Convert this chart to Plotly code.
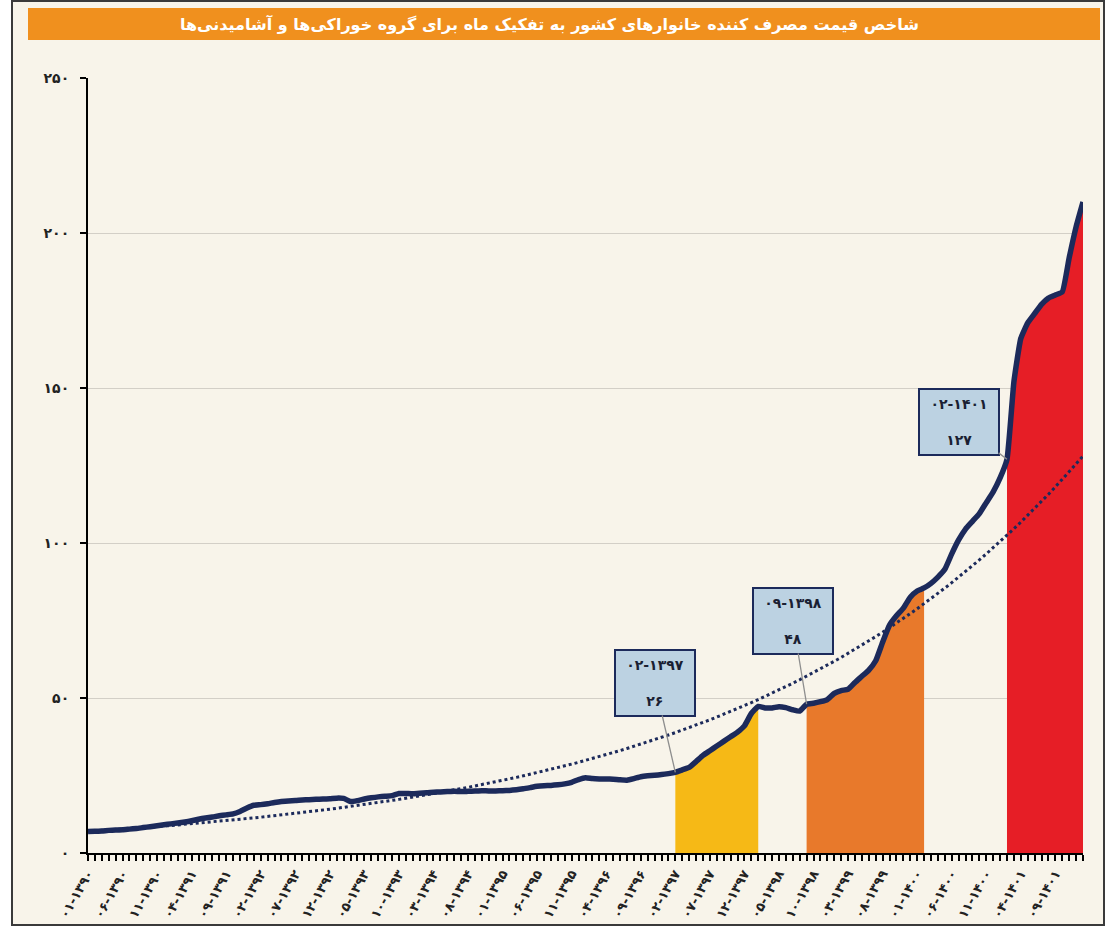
import numpy as np
import plotly.graph_objects as go

FA = str.maketrans("0123456789", "۰۱۲۳۴۵۶۷۸۹")


def fa(s):
    return str(s).translate(FA)


# ---------------- data ----------------
start_year = 1390
months = [f"{(i % 12) + 1:02d}-{start_year + i // 12}" for i in range(145)]

food_cpi = [
    6.9, 7.0, 7.1, 7.3, 7.4, 7.5, 7.7, 7.9, 8.2, 8.5,
    8.8, 9.1, 9.4, 9.7, 10.0, 10.4, 10.9, 11.3, 11.6, 12.0,
    12.3, 12.6, 13.4, 14.5, 15.4, 15.6, 15.9, 16.3, 16.6, 16.8,
    16.9, 17.1, 17.2, 17.3, 17.4, 17.5, 17.7, 17.6, 16.6, 16.9,
    17.4, 17.8, 18.1, 18.3, 18.5, 19.2, 19.2, 19.1, 19.3, 19.4,
    19.6, 19.7, 19.8, 19.9, 19.8, 19.9, 20.0, 20.1, 20.0, 20.0,
    20.1, 20.2, 20.4, 20.7, 21.1, 21.5, 21.7, 21.8, 22.0, 22.3,
    22.8, 23.7, 24.3, 24.0, 23.9, 23.9, 23.8, 23.6, 23.5, 24.0,
    24.6, 24.9, 25.1, 25.3, 25.6, 26.0, 26.8, 27.6, 29.5, 31.5,
    33.0, 34.5, 36.0, 37.5, 39.0, 41.0, 45.0, 47.3, 46.8, 46.8,
    47.2, 46.9, 46.2, 45.8, 48.0, 48.3, 48.8, 49.5, 51.5, 52.4,
    52.8, 55.0, 57.0, 59.0, 62.0, 68.0, 73.5, 76.5, 79.0, 82.5,
    84.5, 85.5, 87.0, 89.0, 91.5, 96.5, 101.0, 104.5, 107.0, 109.5,
    113.0, 116.5, 121.0, 127.0, 152.0, 166.0, 171.0, 174.0, 177.0, 179.0,
    180.0, 181.0, 192.0, 202.0, 210.0,
]

y_ticks = [0, 50, 100, 150, 200, 250]

# highlighted periods: (start month, end month, colour)
highlight_periods = [
    ("02-1397", "02-1398", "#F6B916"),
    ("09-1398", "02-1400", "#E8792B"),
    ("02-1401", "01-1402", "#E61E26"),
]

# callouts: month, value, box position (month, value)
callouts = [
    ("02-1397", 26, "11-1396", 55),
    ("09-1398", 48, "07-1398", 75),
    ("02-1401", 127, "07-1400", 139),
]

title_text = "شاخص قیمت مصرف کننده خانوارهای کشور به تفکیک ماه برای گروه خوراکی‌ها و آشامیدنی‌ها"

# ---------------- figure ----------------
idx = list(range(len(months)))
navy = "#1C2A5B"
cream = "#F8F4EA"

# exponential trendline (least squares on log values, as Excel does)
coef = np.polyfit(idx, np.log(food_cpi), 1)
trend = np.exp(np.polyval(coef, idx))

fig = go.Figure()

for start, end, col in highlight_periods:
    a, b = months.index(start), months.index(end)
    fig.add_trace(go.Scatter(
        x=idx[a:b + 1], y=food_cpi[a:b + 1], mode="lines",
        line=dict(width=0, color=col), fill="tozeroy", fillcolor=col,
        hoverinfo="skip", showlegend=False,
    ))

fig.add_trace(go.Scatter(
    x=idx, y=trend, mode="lines",
    line=dict(color=navy, width=3, dash="dot"),
    showlegend=False, hoverinfo="skip",
))

fig.add_trace(go.Scatter(
    x=idx, y=food_cpi, mode="lines",
    line=dict(color=navy, width=5.5, shape="spline", smoothing=0.4),
    showlegend=False,
))

for m, v, box_m, box_v in callouts:
    fig.add_annotation(
        x=months.index(m), y=v, xref="x", yref="y",
        ax=months.index(box_m), ay=box_v, axref="x", ayref="y",
        text=f"<b>{fa(m[:2])}-{fa(m[3:])}</b><br><br><b>{fa(v)}</b>",
        showarrow=True, arrowhead=0, arrowwidth=1.3, arrowcolor="#8E8E8E",
        bgcolor="#BCD2E2", bordercolor=navy, borderwidth=2, borderpad=4,
        width=70, height=56,
        font=dict(family="DejaVu Sans", size=14, color="#1A1F33"),
        align="center",
    )


def px_x(p):
    return (p - 88) / 995.0


def px_y(p):
    return (853 - p) / 775.0


# outer frame and title bar
fig.add_shape(type="rect", xref="paper", yref="paper",
              x0=px_x(12), x1=px_x(1104), y0=px_y(925), y1=px_y(1),
              fillcolor=cream, line=dict(color="#3A3A3A", width=2), layer="below")
fig.add_shape(type="rect", xref="paper", yref="paper",
              x0=px_x(28), x1=px_x(1100), y0=px_y(40), y1=px_y(8),
              fillcolor="#F0901E", line=dict(width=0), layer="below")
fig.add_annotation(xref="paper", yref="paper", x=px_x(549), y=px_y(24),
                   text=f"<b>{title_text}</b>", showarrow=False,
                   font=dict(family="DejaVu Sans", size=16, color="white"),
                   xanchor="center", yanchor="middle")

fig.update_xaxes(
    range=[0, len(months) - 1], automargin=False,
    tickmode="array", tickvals=idx,
    ticktext=[f"<b>{fa(m)}</b>" if i % 5 == 0 else "" for i, m in enumerate(months)],
    tickangle=-60, ticks="outside", ticklen=6, tickwidth=1.5, tickcolor="black",
    showline=True, linecolor="black", linewidth=2, showgrid=False, zeroline=False,
    tickfont=dict(family="DejaVu Sans", size=13, color="#222"),
)
fig.update_yaxes(
    range=[0, 250], automargin=False, tickmode="array", tickvals=y_ticks,
    ticktext=[f"<b>{fa(t)}</b>" for t in y_ticks],
    ticks="outside", ticklen=6, tickwidth=1.5, tickcolor="black",
    showline=True, linecolor="black", linewidth=2,
    showgrid=True, gridcolor="#D3CFC7", gridwidth=1.2, zeroline=False,
    tickfont=dict(family="DejaVu Sans", size=14, color="#222"),
    ticklabelstandoff=8,
)

fig.update_layout(
    width=1110, height=927,
    margin=dict(l=88, r=27, t=78, b=74),
    paper_bgcolor="white", plot_bgcolor="rgba(0,0,0,0)",
    showlegend=False,
)

fig.write_html("out.html", config={"displayModeBar": False},
               post_script="document.body.style.margin='0';")
